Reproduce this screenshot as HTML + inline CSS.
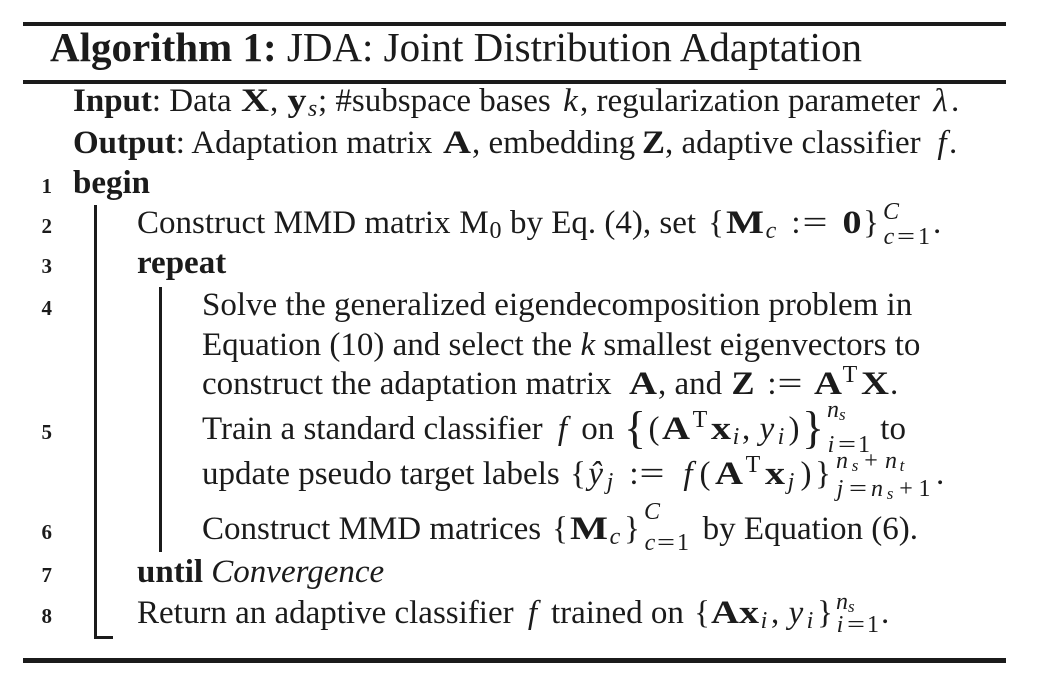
<!DOCTYPE html>
<html><head><meta charset="utf-8">
<style>
html,body{margin:0;padding:0;background:#fff;}
svg{display:block;}
text{font-family:"Liberation Serif","Times New Roman",serif;fill:#1b1b1b;font-size:33px;}
.b{font-weight:bold}
.i{font-style:italic}
.s{font-size:24px}
.ss{font-size:17px}
.n{font-weight:bold;font-size:21px}
.c{text-anchor:middle}
.big{font-size:46px}
</style></head><body>
<svg width="1060" height="698" viewBox="0 0 1060 698" xmlns="http://www.w3.org/2000/svg">
<rect width="1060" height="698" fill="#fff"/>
<rect x="23" y="22" width="983" height="4" fill="#1b1b1b"/>
<rect x="23" y="80" width="983" height="4" fill="#1b1b1b"/>
<rect x="23" y="658" width="983" height="5" fill="#1b1b1b"/>
<rect x="94" y="205" width="3" height="434" fill="#1b1b1b"/>
<rect x="94" y="636" width="19" height="3" fill="#1b1b1b"/>
<rect x="159" y="287" width="3" height="265" fill="#1b1b1b"/>

<text x="50" y="61" style="font-size:41px"><tspan class="b">Algorithm 1:</tspan> JDA: Joint Distribution Adaptation</text>

<!-- Input -->
<text x="73" y="111"><tspan class="b">Input</tspan>: Data</text>
<text x="255" y="111" class="b c" textLength="28" lengthAdjust="spacingAndGlyphs">X</text>
<text x="270" y="111">,</text>
<text x="297" y="111" class="b c" textLength="19" lengthAdjust="spacingAndGlyphs">y</text>
<text x="312.5" y="116" class="s i c">s</text>
<text x="318" y="111">; #subspace bases</text>
<text x="570.5" y="111" class="i c">k</text>
<text x="580" y="111">, regularization parameter</text>
<text x="940.5" y="111" class="i c">λ</text>
<text x="951" y="111">.</text>

<!-- Output -->
<text x="73" y="153"><tspan class="b">Output</tspan>: Adaptation matrix</text>
<text x="457" y="153" class="b c" textLength="28" lengthAdjust="spacingAndGlyphs">A</text>
<text x="472" y="153">, embedding</text>
<text x="653.5" y="153" class="b c" textLength="23" lengthAdjust="spacingAndGlyphs">Z</text>
<text x="665" y="153">, adaptive classifier</text>
<text x="942" y="153" class="i c">f</text>
<text x="949" y="153">.</text>

<!-- 1 -->
<text x="52" y="193" class="n" text-anchor="end">1</text>
<text x="73" y="193" class="b">begin</text>

<!-- 2 -->
<text x="52" y="233" class="n" text-anchor="end">2</text>
<text x="137" y="233">Construct MMD matrix</text>
<text x="474" y="233" class="c">M</text>
<text x="495.5" y="238" class="s c">0</text>
<text x="510" y="233">by Eq. (4), set</text>
<text x="716" y="233" class="c">{</text>
<text x="745" y="233" class="b c" textLength="38" lengthAdjust="spacingAndGlyphs">M</text>
<text x="771" y="238" class="s i c">c</text>
<text x="796" y="233" class="c">:</text>
<text x="815" y="233" class="c" textLength="25" lengthAdjust="spacingAndGlyphs">=</text>
<text x="852" y="233" class="b c" textLength="19" lengthAdjust="spacingAndGlyphs">0</text>
<text x="871" y="233" class="c">}</text>
<text x="883" y="219" class="s i">C</text>
<text x="889" y="244" class="s i c">c</text>
<text x="906" y="244" class="s c" textLength="18" lengthAdjust="spacingAndGlyphs">=</text>
<text x="924" y="244" class="s c">1</text>
<text x="933" y="233">.</text>

<!-- 3 -->
<text x="52" y="273" class="n" text-anchor="end">3</text>
<text x="137" y="273" class="b">repeat</text>

<!-- 4 -->
<text x="52" y="315" class="n" text-anchor="end">4</text>
<text x="202" y="315">Solve the generalized eigendecomposition problem in</text>
<text x="202" y="355">Equation (10) and select the <tspan class="i">k</tspan> smallest eigenvectors to</text>
<text x="202" y="394">construct the adaptation matrix</text>
<text x="643" y="394" class="b c" textLength="28" lengthAdjust="spacingAndGlyphs">A</text>
<text x="658" y="394">, and</text>
<text x="743" y="394" class="b c" textLength="23" lengthAdjust="spacingAndGlyphs">Z</text>
<text x="772" y="394" class="c">:</text>
<text x="790" y="394" class="c" textLength="25" lengthAdjust="spacingAndGlyphs">=</text>
<text x="828" y="394" class="b c" textLength="28" lengthAdjust="spacingAndGlyphs">A</text>
<text x="850" y="382" class="s c">T</text>
<text x="875" y="394" class="b c" textLength="28" lengthAdjust="spacingAndGlyphs">X</text>
<text x="890" y="394">.</text>

<!-- 5 -->
<text x="52" y="439" class="n" text-anchor="end">5</text>
<text x="202" y="439">Train a standard classifier</text>
<text x="562.5" y="439" class="i c">f</text>
<text x="581.3" y="439">on</text>
<text x="635" y="443" class="big c">{</text>
<text x="654" y="439" class="c">(</text>
<text x="676" y="439" class="b c" textLength="28" lengthAdjust="spacingAndGlyphs">A</text>
<text x="700" y="427" class="s c">T</text>
<text x="721" y="439" class="b c" textLength="20" lengthAdjust="spacingAndGlyphs">x</text>
<text x="736" y="444" class="s i c">i</text>
<text x="742" y="439">,</text>
<text x="767" y="439" class="i c">y</text>
<text x="781" y="444" class="s i c">i</text>
<text x="794" y="439" class="c">)</text>
<text x="813" y="443" class="big c">}</text>
<text x="827" y="417" class="s i">n<tspan class="ss" y="420">s</tspan></text>
<text x="831" y="452" class="s i c">i</text>
<text x="847" y="452" class="s c" textLength="18" lengthAdjust="spacingAndGlyphs">=</text>
<text x="864" y="452" class="s c">1</text>
<text x="880.3" y="439">to</text>

<!-- 5 cont -->
<text x="202" y="484">update pseudo target labels</text>
<text x="578" y="484" class="c">{</text>
<text x="595.7" y="484" class="i c">ŷ</text>
<text x="610" y="489" class="s i c">j</text>
<text x="634" y="484" class="c">:</text>
<text x="652" y="484" class="c" textLength="25" lengthAdjust="spacingAndGlyphs">=</text>
<text x="688" y="484" class="i c">f</text>
<text x="705" y="484" class="c">(</text>
<text x="729" y="484" class="b c" textLength="28" lengthAdjust="spacingAndGlyphs">A</text>
<text x="753" y="472" class="s c">T</text>
<text x="775" y="484" class="b c" textLength="20" lengthAdjust="spacingAndGlyphs">x</text>
<text x="791" y="489" class="s i c">j</text>
<text x="806" y="484" class="c">)</text>
<text x="823" y="484" class="c">}</text>
<text x="842" y="468" class="s i c">n</text>
<text x="855" y="471" class="ss i c">s</text>
<text x="871" y="468" class="s c">+</text>
<text x="891" y="468" class="s i c">n</text>
<text x="902" y="471" class="ss i c">t</text>
<text x="840" y="496" class="s i c">j</text>
<text x="858" y="496" class="s c" textLength="18" lengthAdjust="spacingAndGlyphs">=</text>
<text x="877" y="496" class="s i c">n</text>
<text x="890" y="499" class="ss i c">s</text>
<text x="906" y="496" class="s c">+</text>
<text x="924.5" y="496" class="s c">1</text>
<text x="936" y="484">.</text>

<!-- 6 -->
<text x="52" y="539" class="n" text-anchor="end">6</text>
<text x="202" y="539">Construct MMD matrices</text>
<text x="560" y="539" class="c">{</text>
<text x="589" y="539" class="b c" textLength="38" lengthAdjust="spacingAndGlyphs">M</text>
<text x="615" y="544" class="s i c">c</text>
<text x="632" y="539" class="c">}</text>
<text x="644" y="519" class="s i">C</text>
<text x="650" y="550" class="s i c">c</text>
<text x="666" y="550" class="s c" textLength="18" lengthAdjust="spacingAndGlyphs">=</text>
<text x="683" y="550" class="s c">1</text>
<text x="702.6" y="539">by Equation (6).</text>

<!-- 7 -->
<text x="52" y="582" class="n" text-anchor="end">7</text>
<text x="137" y="582"><tspan class="b">until</tspan> <tspan class="i">Convergence</tspan></text>

<!-- 8 -->
<text x="52" y="623" class="n" text-anchor="end">8</text>
<text x="137" y="623">Return an adaptive classifier</text>
<text x="532.4" y="623" class="i c">f</text>
<text x="551" y="623">trained on</text>
<text x="702" y="623" class="c">{</text>
<text x="725" y="623" class="b c" textLength="28" lengthAdjust="spacingAndGlyphs">A</text>
<text x="749" y="623" class="b c" textLength="20" lengthAdjust="spacingAndGlyphs">x</text>
<text x="764" y="628" class="s i c">i</text>
<text x="771" y="623">,</text>
<text x="796" y="623" class="i c">y</text>
<text x="810" y="628" class="s i c">i</text>
<text x="825" y="623" class="c">}</text>
<text x="836" y="609" class="s i">n<tspan class="ss" y="612">s</tspan></text>
<text x="840" y="632" class="s i c">i</text>
<text x="856" y="632" class="s c" textLength="18" lengthAdjust="spacingAndGlyphs">=</text>
<text x="873" y="632" class="s c">1</text>
<text x="881" y="623">.</text>
</svg>
</body></html>
